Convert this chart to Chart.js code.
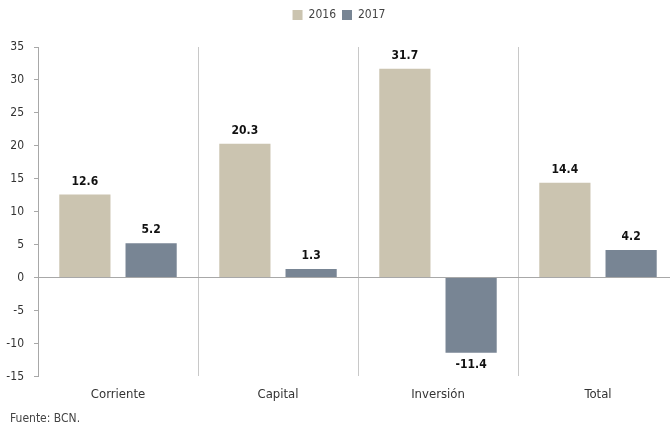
<!DOCTYPE html>
<html>
<head>
<meta charset="utf-8">
<script src="https://cdn.jsdelivr.net/npm/chart.js@4"></script>
<style>
  html, body { margin: 0; padding: 0; background: #fff; overflow: hidden; }
  #wrap { position: relative; width: 678px; height: 430px; }
  #fuente { position: absolute; left: 10px; top: 411px; font: 12px "DejaVu Sans Condensed", sans-serif; color: #444; }
</style>
</head>
<body>
<div id="wrap">
  <canvas id="chart" width="678" height="430"></canvas>
  <div id="fuente">Fuente: BCN.</div>
</div>
<script>
// datos
const categorias = ['Corriente', 'Capital', 'Inversión', 'Total'];
const serie2016 = [12.6, 20.3, 31.7, 14.4];
const serie2017 = [5.2, 1.3, -11.4, 4.2];

const fuente = '"DejaVu Sans Condensed", sans-serif';

// etiquetas de valor sobre las barras
const etiquetas = {
    id: 'etiquetas',
    afterDatasetsDraw(chart) {
        const ctx = chart.ctx;
        ctx.save();
        ctx.font = 'bold 12px ' + fuente;
        ctx.fillStyle = '#111';
        ctx.textAlign = 'center';
        chart.data.datasets.forEach((ds, i) => {
            chart.getDatasetMeta(i).data.forEach((bar, j) => {
                const v = ds.data[j];
                if (v >= 0) {
                    ctx.textBaseline = 'bottom';
                    ctx.fillText(v.toFixed(1), bar.x, bar.y - 7);
                } else {
                    ctx.textBaseline = 'top';
                    ctx.fillText(v.toFixed(1), bar.x, bar.y + 6);
                }
            });
        });
        ctx.restore();
    }
};

// espacio extra bajo la leyenda
const espacioLeyenda = {
    id: 'espacioLeyenda',
    afterInit(chart) {
        const fit = chart.legend.fit;
        chart.legend.fit = function () {
            fit.call(this);
            this.height += 16;
        };
    }
};

const ctx = document.getElementById('chart').getContext('2d');
new Chart(ctx, {
    type: 'bar',
    data: {
        labels: categorias,
        datasets: [
            { label: '2016', data: serie2016, backgroundColor: '#cbc4b0' },
            { label: '2017', data: serie2017, backgroundColor: '#788594' }
        ]
    },
    plugins: [etiquetas, espacioLeyenda],
    options: {
        responsive: false,
        animation: false,
        layout: { padding: { top: 3, right: 0, bottom: 18, left: 0 } },
        datasets: { bar: { categoryPercentage: 0.828, barPercentage: 0.773 } },
        plugins: {
            legend: {
                position: 'top',
                labels: { boxWidth: 10, boxHeight: 10, padding: 6, color: '#444', font: { family: fuente, size: 12 } }
            },
            tooltip: { enabled: false }
        },
        scales: {
            x: {
                grid: { offset: true, color: '#c8c8c8', drawTicks: false },
                border: { display: false },
                ticks: { color: '#333', padding: 10, font: { family: fuente, size: 13 } }
            },
            y: {
                min: -15,
                max: 35,
                afterFit: (scale) => { scale.width = 38; },
                ticks: { stepSize: 5, color: '#333', padding: 10, font: { family: fuente, size: 12 } },
                grid: {
                    color: (c) => c.tick && c.tick.value === 0 ? '#a8a8a8' : 'rgba(0,0,0,0)',
                    tickColor: '#a8a8a8',
                    tickLength: 4
                },
                border: { display: true, color: '#a8a8a8' }
            }
        }
    }
});
</script>
</body>
</html>
